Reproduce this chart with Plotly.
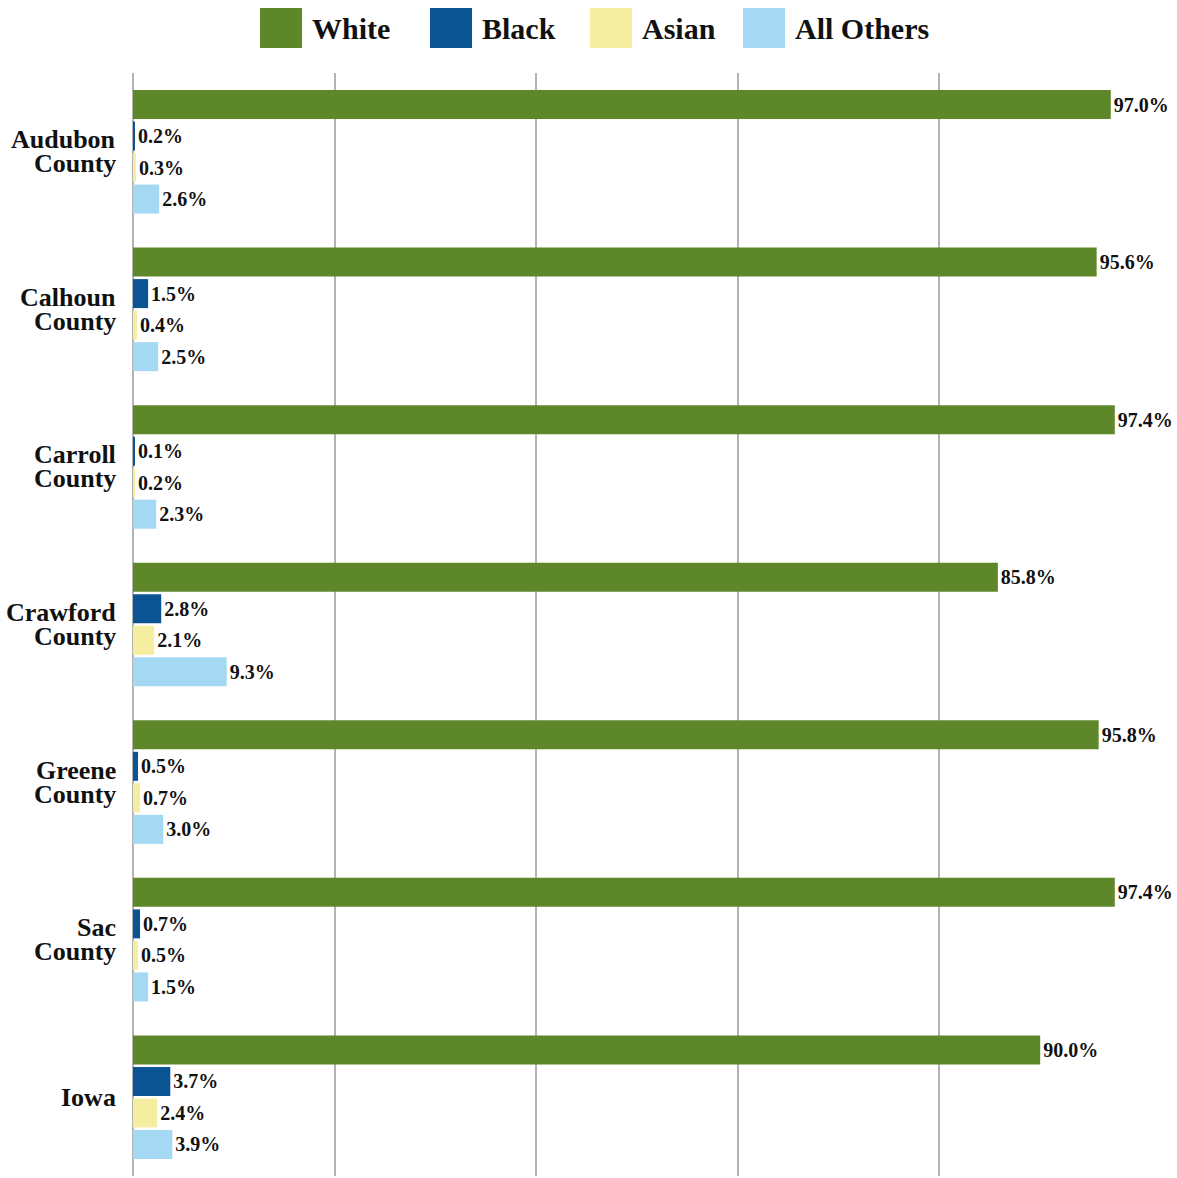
import plotly.graph_objects as go

# Population share by race, percent
categories = ["Audubon<br>County", "Calhoun<br>County", "Carroll<br>County",
              "Crawford<br>County", "Greene<br>County", "Sac<br>County", "Iowa"]
white = [97.0, 95.6, 97.4, 85.8, 95.8, 97.4, 90.0]
black = [0.2, 1.5, 0.1, 2.8, 0.5, 0.7, 3.7]
asian = [0.3, 0.4, 0.2, 2.1, 0.7, 0.5, 2.4]
all_others = [2.6, 2.5, 2.3, 9.3, 3.0, 1.5, 3.9]

series_names = ["White", "Black", "Asian", "All Others"]
series_values = [white, black, asian, all_others]
series_colors = ["#5E8729", "#0B5494", "#F5EEA0", "#A5D8F3"]

FONT = "Liberation Serif"
W, H = 1177, 1178
M_L, M_R, M_T, M_B = 133, 36, 73, 2

fig = go.Figure()
for name, vals, col in zip(series_names, series_values, series_colors):
    fig.add_trace(go.Bar(
        y=categories, x=vals, name=name, orientation="h",
        marker=dict(color=col, line=dict(width=0)),
        text=[f"{v:.1f}%" for v in vals],
        textposition="outside",
        constraintext="none",
        cliponaxis=False,
        textfont=dict(family=FONT, size=20, color="#111111", weight="bold"),
        showlegend=False,
    ))

# Custom legend row above the plot (pixel layout converted to paper units)
plot_w = W - M_L - M_R
plot_h = H - M_T - M_B


def px_x(px):
    return (px - M_L) / plot_w


def px_y(py):
    return (H - M_B - py) / plot_h


legend_x = [260, 430, 590, 743]
sw_w, sw_top, sw_bot = 42, 8, 48
shapes = []
annotations = []
for name, col, x0 in zip(series_names, series_colors, legend_x):
    shapes.append(dict(type="rect", xref="paper", yref="paper",
                       x0=px_x(x0), x1=px_x(x0 + sw_w),
                       y0=px_y(sw_bot), y1=px_y(sw_top),
                       fillcolor=col, line=dict(width=0)))
    annotations.append(dict(xref="paper", yref="paper",
                            x=px_x(x0 + sw_w + 8), y=px_y(29),
                            xanchor="left", yanchor="middle",
                            text=name, showarrow=False,
                            font=dict(family=FONT, size=30, color="#111111",
                                      weight="bold")))

# Category labels, one annotation per line for tight line spacing
LINE_GAP = 24
for cat in categories:
    lines = cat.split("<br>")
    n = len(lines)
    for i, line in enumerate(lines):
        annotations.append(dict(xref="paper", yref="y", x=0, y=cat,
                                xanchor="right", yanchor="middle",
                                xshift=-15,
                                yshift=((n - 1) / 2 - i) * LINE_GAP,
                                text=line, showarrow=False,
                                font=dict(family=FONT, size=26,
                                          color="#111111", weight="bold")))

fig.update_layout(
    width=W, height=H,
    margin=dict(l=M_L, r=M_R, t=M_T, b=M_B),
    paper_bgcolor="white", plot_bgcolor="white",
    barmode="group", bargap=0.2, bargroupgap=0.08,
    shapes=shapes, annotations=annotations,
    showlegend=False,
    xaxis=dict(range=[0, 100], dtick=20, showticklabels=False,
               showgrid=True, gridcolor="#B3B3B3", gridwidth=2,
               zeroline=True, zerolinecolor="#B3B3B3", zerolinewidth=2,
               showline=False, fixedrange=True),
    yaxis=dict(autorange="reversed", showgrid=False, zeroline=False,
               showline=False, ticks="", showticklabels=False),
)

fig.write_html("out.html")
